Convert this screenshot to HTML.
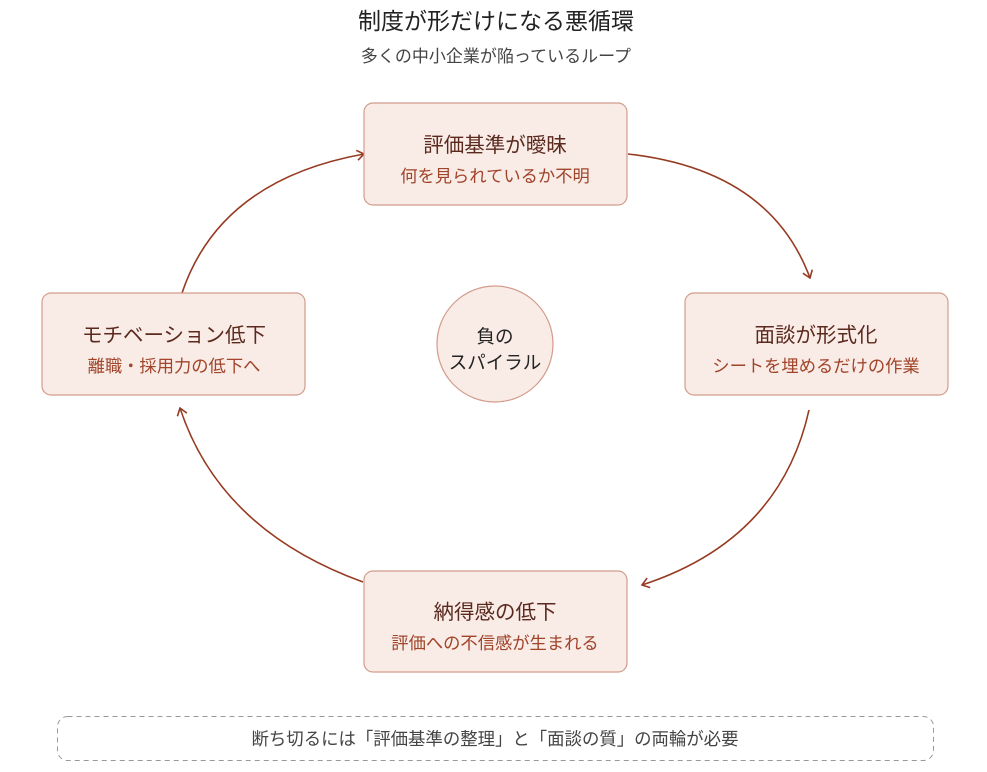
<!DOCTYPE html>
<html><head><meta charset="utf-8"><style>
body{margin:0;background:#fff;}
svg{display:block;font-family:"Liberation Sans","Noto Sans CJK JP",sans-serif;}
</style></head><body>
<svg width="987" height="772" viewBox="0 0 987 772" xmlns="http://www.w3.org/2000/svg">
<defs><marker id="a" markerWidth="12" markerHeight="12" refX="9" refY="6" orient="auto" markerUnits="userSpaceOnUse"><path d="M2,1 L9,6 L2,11" fill="none" stroke="#963b22" stroke-width="1.6"/></marker></defs>
<rect width="987" height="772" fill="#fff"/>
<text x="496" y="29" text-anchor="middle" font-size="23" fill="#222">制度が形だけになる悪循環</text>
<text x="496" y="62" text-anchor="middle" font-size="17" fill="#444">多くの中小企業が陥っているループ</text>
<g fill="none" stroke="#963b22" stroke-width="1.6">
<path d="M628,154 Q770,170 810,278" marker-end="url(#a)"/>
<path d="M809,410 Q780,540 642,585" marker-end="url(#a)"/>
<path d="M363,582 Q220,530 180,408" marker-end="url(#a)"/>
<path d="M182,293 Q220,180 364,154" marker-end="url(#a)"/>
</g>
<g fill="#f9ebe6" stroke="#d29c8b" stroke-width="1.2">
<rect x="364" y="103" width="263" height="102" rx="9"/>
<rect x="685" y="293" width="263" height="102" rx="9"/>
<rect x="364" y="571" width="263" height="101" rx="9"/>
<rect x="42" y="293" width="263" height="102" rx="9"/>
<circle cx="495" cy="344" r="58"/>
</g>
<g text-anchor="middle">
<text x="495" y="152" font-size="20.5" fill="#5a2a1e">評価基準が曖昧</text>
<text x="495" y="182" font-size="17.3" fill="#a0442a">何を見られているか不明</text>
<text x="816" y="342" font-size="20.5" fill="#5a2a1e">面談が形式化</text>
<text x="816" y="372" font-size="17.3" fill="#a0442a">シートを埋めるだけの作業</text>
<text x="495" y="619" font-size="20.5" fill="#5a2a1e">納得感の低下</text>
<text x="495" y="649" font-size="17.3" fill="#a0442a">評価への不信感が生まれる</text>
<text x="174" y="342" font-size="20.5" fill="#5a2a1e">モチベーション低下</text>
<text x="174" y="372" font-size="17.3" fill="#a0442a">離職・採用力の低下へ</text>
<text x="495" y="343" font-size="18.5" fill="#222">負の</text>
<text x="495" y="369" font-size="18.5" fill="#222">スパイラル</text>
</g>
<rect x="57.5" y="716.5" width="876" height="44" rx="10" fill="none" stroke="#999" stroke-dasharray="5,4"/>
<text x="495" y="745" text-anchor="middle" font-size="17.4" fill="#444">断ち切るには「評価基準の整理」と「面談の質」の両輪が必要</text>
</svg>
</body></html>
